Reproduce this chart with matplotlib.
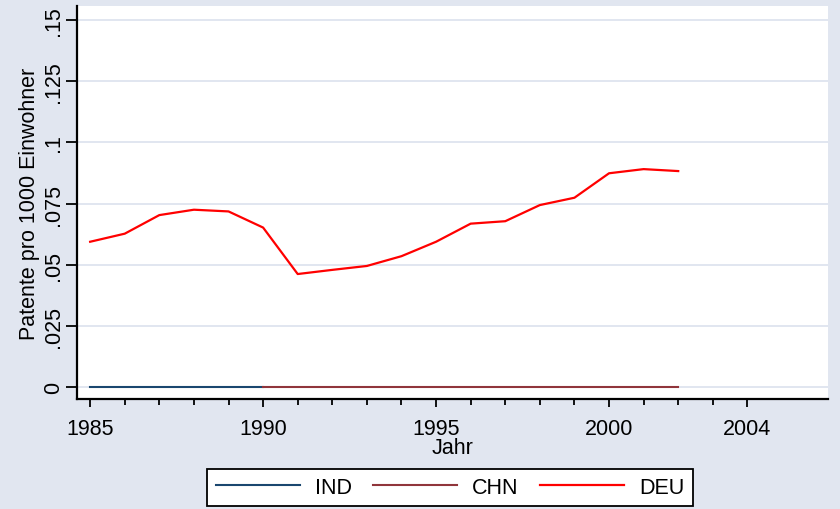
import numpy as np
import matplotlib
matplotlib.use("Agg")
import matplotlib.pyplot as plt
from matplotlib.ticker import FixedLocator

plt.rcParams['font.family'] = ['Liberation Sans', 'DejaVu Sans']

# data
years = np.arange(1985, 2003)
deu = [0.0594, 0.0627, 0.0703, 0.0725, 0.0718, 0.0652, 0.0462, 0.0479, 0.0495,
       0.0535, 0.0594, 0.0668, 0.0678, 0.0744, 0.0774, 0.0874, 0.0891, 0.0883]
ind_years = np.arange(1985, 1991)
ind = [0, 0, 0, 0, 0, 0]
chn_years = np.arange(1990, 2003)
chn = [0] * 13

x_major = [1985, 1990, 1995, 2000, 2004]
x_minor = [y for y in range(1986, 2004) if y not in x_major]
y_ticks = [0, 0.025, 0.05, 0.075, 0.1, 0.125, 0.15]
y_labels = ['0', '.025', '.05', '.075', '.1', '.125', '.15']

bg = '#E1E6F0'
fs = 15.5

fig = plt.figure(figsize=(8.4, 5.1), dpi=100, facecolor=bg)
ax = fig.add_axes([77 / 840, 110 / 510, 751 / 840, 393 / 510])
ax.set_facecolor('white')

ax.plot(ind_years, ind, color='#1A476F', lw=1.5, label='IND')
ax.plot(chn_years, chn, color='#90353B', lw=1.5, label='CHN')
ax.plot(years, deu, color='#FF0000', lw=1.6, label='DEU')

ax.set_xlim(1984.62, 2006.33)
ax.set_ylim(-0.0049, 0.1558)

ax.xaxis.set_major_locator(FixedLocator(x_major))
ax.xaxis.set_minor_locator(FixedLocator(x_minor))
ax.set_xticklabels([str(v) for v in x_major], fontsize=fs)
ax.set_yticks(y_ticks)
ax.set_yticklabels(y_labels, fontsize=fs, rotation=90, va='center')

ax.grid(axis='y', color=bg, lw=1.4)
ax.set_axisbelow(True)
for s in ['top', 'right']:
    ax.spines[s].set_visible(False)
for s in ['left', 'bottom']:
    ax.spines[s].set_linewidth(1.6)
ax.tick_params(axis='x', which='major', length=6, width=1.3, pad=8)
ax.tick_params(axis='x', which='minor', length=4, width=1.3)
ax.tick_params(axis='y', which='major', length=8, width=1.3, pad=1.5)

ax.set_ylabel('Patente pro 1000 Einwohner', fontsize=fs, labelpad=2)
ax.set_xlabel('Jahr', fontsize=fs, labelpad=-2)

leg = fig.legend(loc='center', bbox_to_anchor=(450 / 840, 1 - 488.5 / 510), ncol=3,
                 fontsize=fs, handlelength=3.9, handletextpad=0.7, columnspacing=1.0,
                 fancybox=False, edgecolor='black', framealpha=1, borderpad=0.38)
leg.get_frame().set_linewidth(1.3)

fig.savefig('out.png', dpi=100, facecolor=bg)
